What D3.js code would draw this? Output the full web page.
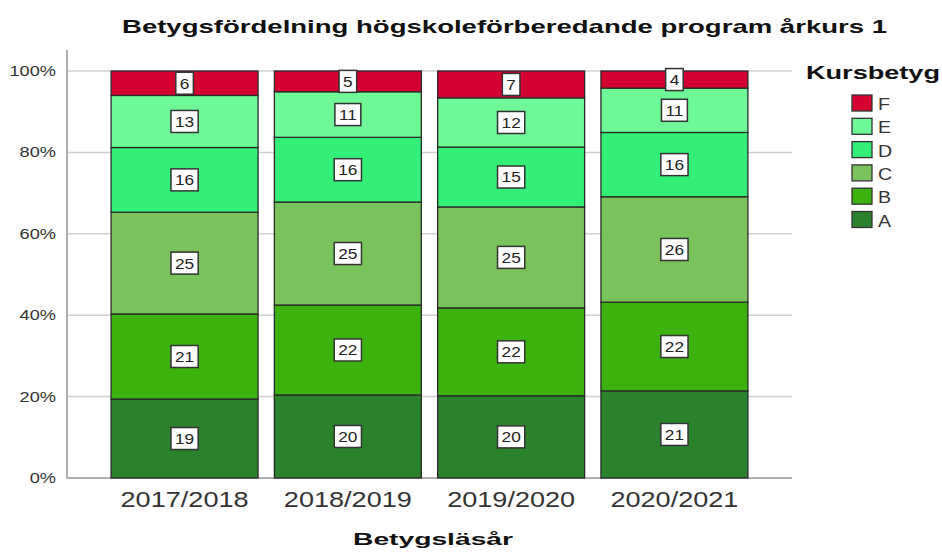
<!DOCTYPE html>
<html>
<head>
<meta charset="utf-8">
<script src="https://cdn.jsdelivr.net/npm/d3@7"></script>
<style>
  body { margin: 0; background: #fff; }
  svg { display: block; font-family: 'Liberation Sans', Arial, sans-serif; }
</style>
</head>
<body>
<div id="chart"></div>
<script>
  // Data (percent of students per grade and year)
  const years = ['2017/2018', '2018/2019', '2019/2020', '2020/2021'];
  const grades = ['A', 'B', 'C', 'D', 'E', 'F'];
  const gradeA = [19.4, 20.4, 20.2, 21.4];
  const gradeB = [20.9, 22.1, 21.6, 21.8];
  const gradeC = [25.0, 25.3, 24.8, 25.9];
  const gradeD = [15.9, 15.9, 14.7, 15.8];
  const gradeE = [12.8, 11.2, 12.1, 10.9];
  const gradeF = [6.0, 5.1, 6.6, 4.2];
  const yTicks = [0, 20, 40, 60, 80, 100];

  const WIDTH = 942;
  const HEIGHT = 554;

  const colors = {
    A: '#2b822d',
    B: '#3bb20e',
    C: '#79c25c',
    D: '#33ee77',
    E: '#6ef898',
    F: '#d50032'
  };

  // stretch text horizontally like the original export
  const stretch = (sel, k) =>
    sel.each(function () {
      const len = this.getComputedTextLength();
      d3.select(this).attr('textLength', len * k).attr('lengthAdjust', 'spacingAndGlyphs');
    });

  const series = { A: gradeA, B: gradeB, C: gradeC, D: gradeD, E: gradeE, F: gradeF };
  const table = years.map((y, i) => {
    const row = { year: y };
    grades.forEach((g) => (row[g] = series[g][i]));
    return row;
  });

  const stacked = d3.stack().keys(grades)(table);

  const svg = d3
    .select('#chart')
    .append('svg')
    .attr('width', WIDTH)
    .attr('height', HEIGHT)
    .attr('viewBox', `0 0 ${WIDTH} ${HEIGHT}`);

  const x = d3.scaleBand().domain(years).range([67, 792]).paddingInner(0.1).paddingOuter(0.27);
  const y = d3.scaleLinear().domain([0, 100]).range([478, 71]);

  // gridlines
  svg
    .append('g')
    .selectAll('line')
    .data(yTicks.slice(1))
    .join('line')
    .attr('x1', 67)
    .attr('x2', 792)
    .attr('y1', (d) => y(d))
    .attr('y2', (d) => y(d))
    .attr('stroke', '#d0d0d0')
    .attr('stroke-width', 1.5);

  // y axis
  const yAxis = svg
    .append('g')
    .attr('transform', 'translate(67,0)')
    .call(d3.axisLeft(y).tickValues(yTicks).tickSize(0).tickPadding(11).tickFormat((d) => d + '%'));
  yAxis.select('.domain').remove();
  yAxis
    .selectAll('text')
    .attr('font-size', 14)
    .attr('fill', '#333')
    .attr('font-family', 'Liberation Sans, Arial, sans-serif')
    .call(stretch, 1.3);

  svg.append('line').attr('x1', 67).attr('x2', 67).attr('y1', 50).attr('y2', 478).attr('stroke', '#b0b0b0').attr('stroke-width', 2);
  svg.append('line').attr('x1', 66).attr('x2', 792).attr('y1', 478).attr('y2', 478).attr('stroke', '#b0b0b0').attr('stroke-width', 2);

  // bars
  const layer = svg
    .append('g')
    .selectAll('g')
    .data(stacked)
    .join('g')
    .attr('fill', (d) => colors[d.key]);

  layer
    .selectAll('rect')
    .data((d) => d)
    .join('rect')
    .attr('x', (d) => x(d.data.year))
    .attr('y', (d) => y(d[1]))
    .attr('width', x.bandwidth())
    .attr('height', (d) => y(d[0]) - y(d[1]))
    .attr('stroke', '#2a2a2a')
    .attr('stroke-width', 1.3);

  // value labels
  const labels = svg
    .append('g')
    .selectAll('g')
    .data(stacked.flatMap((s) => s.map((d) => ({ d, key: s.key }))))
    .join('g')
    .attr('transform', ({ d }) => `translate(${x(d.data.year) + x.bandwidth() / 2},${(y(d[0]) + y(d[1])) / 2})`);

  labels
    .append('text')
    .attr('text-anchor', 'middle')
    .attr('dy', '0.36em')
    .attr('font-size', 15)
    .attr('fill', '#222')
    .text(({ d }) => Math.round(d[1] - d[0]))
    .call(stretch, 1.15);

  labels.each(function () {
    const g = d3.select(this);
    const bb = g.select('text').node().getBBox();
    g.insert('rect', 'text')
      .attr('x', bb.x - 4)
      .attr('y', -11)
      .attr('width', bb.width + 8)
      .attr('height', 22)
      .attr('fill', '#fff')
      .attr('stroke', '#333')
      .attr('stroke-width', 1.5);
  });

  // x labels
  svg
    .append('g')
    .selectAll('text')
    .data(years)
    .join('text')
    .attr('x', (d) => x(d) + x.bandwidth() / 2 - 64)
    .attr('y', 507)
    .attr('font-size', 22)
    .attr('fill', '#333')
    .attr('textLength', 128)
    .attr('lengthAdjust', 'spacingAndGlyphs')
    .text((d) => d);

  // titles
  svg
    .append('text')
    .attr('x', 122)
    .attr('y', 33)
    .attr('font-size', 19)
    .attr('font-weight', 'bold')
    .attr('fill', '#111')
    .attr('textLength', 765)
    .attr('lengthAdjust', 'spacingAndGlyphs')
    .text('Betygsfördelning högskoleförberedande program årkurs 1');

  svg
    .append('text')
    .attr('x', 353)
    .attr('y', 545)
    .attr('font-size', 17)
    .attr('font-weight', 'bold')
    .attr('fill', '#111')
    .attr('textLength', 160)
    .attr('lengthAdjust', 'spacingAndGlyphs')
    .text('Betygsläsår');

  // legend
  const legend = svg.append('g');
  legend
    .append('text')
    .attr('x', 806)
    .attr('y', 79)
    .attr('font-size', 19)
    .attr('font-weight', 'bold')
    .attr('fill', '#111')
    .attr('textLength', 134)
    .attr('lengthAdjust', 'spacingAndGlyphs')
    .text('Kursbetyg');

  const item = legend
    .selectAll('g')
    .data(grades.slice().reverse())
    .join('g')
    .attr('transform', (d, i) => `translate(852,${95 + i * 23.3})`);

  item
    .append('rect')
    .attr('width', 20)
    .attr('height', 16)
    .attr('fill', (d) => colors[d])
    .attr('stroke', '#333')
    .attr('stroke-width', 1.3);

  item
    .append('text')
    .attr('x', 26)
    .attr('y', 15)
    .attr('font-size', 17)
    .attr('fill', '#333')
    .text((d) => d)
    .call(stretch, 1.15);
</script>
</body>
</html>
